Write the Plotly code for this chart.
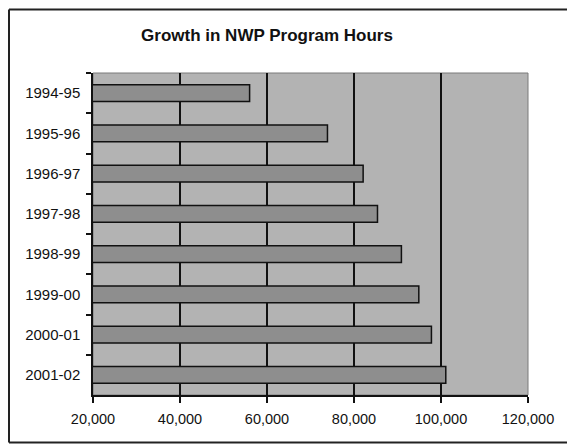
import plotly.graph_objects as go

years = ["1994-95", "1995-96", "1996-97", "1997-98", "1998-99", "1999-00", "2000-01", "2001-02"]
hours = [56000, 73900, 82100, 85400, 90900, 94900, 97800, 101100]
x_ticks = [20000, 40000, 60000, 80000, 100000, 120000]
x_labels = ["20,000", "40,000", "60,000", "80,000", "100,000", "120,000"]

W, H = 567, 445
L, R, T, B = 93, 39, 73, 50
pw, ph = W - L - R, H - T - B

def px_x(p):
    return (p - L) / pw

def px_y(p):
    return (H - B - p) / ph

fig = go.Figure()
fig.add_trace(go.Bar(
    x=hours, y=years, orientation="h",
    marker=dict(color="#8e8e8e", line=dict(color="#111111", width=1.5)),
    width=0.42,
))

font = "Liberation Sans, Arial, sans-serif"
border = dict(color="#222222", width=2)
xl, xr, yt, yb = px_x(9), px_x(580), px_y(9.5), px_y(442.5)
fig.update_layout(
    width=W, height=H,
    margin=dict(l=L, r=R, t=T, b=B),
    paper_bgcolor="white",
    plot_bgcolor="#b3b3b3",
    showlegend=False,
    title=dict(text="<b>Growth in NWP Program Hours</b>", x=267 / W, xref="container", xanchor="center",
               y=1 - 35 / H, yref="container", yanchor="middle",
               font=dict(family=font, size=17, color="#111111")),
    xaxis=dict(range=[20000, 120000], tickvals=x_ticks, ticktext=x_labels,
               showgrid=True, gridcolor="#111111", gridwidth=1.5,
               showline=True, linecolor="#111111", linewidth=1.5,
               ticks="outside", ticklen=6, tickcolor="#111111", tickwidth=1.5,
               ticklabelstandoff=4,
               tickfont=dict(family=font, size=14.5, color="#111111"),
               zeroline=False, fixedrange=True),
    yaxis=dict(autorange="reversed", type="category", tickson="boundaries",
               showgrid=False, showline=True, linecolor="#111111", linewidth=1.5,
               ticks="outside", ticklen=5, tickcolor="#111111", tickwidth=1.5,
               ticklabelstandoff=8,
               tickfont=dict(family=font, size=15, color="#111111"),
               fixedrange=True),
    shapes=[
        dict(type="rect", xref="paper", yref="paper", x0=0, x1=1, y0=0, y1=1,
             line=dict(color="#7a7a7a", width=1), fillcolor="rgba(0,0,0,0)", layer="below"),
        dict(type="line", xref="paper", yref="paper", x0=xl, x1=xr, y0=yt, y1=yt, line=border),
        dict(type="line", xref="paper", yref="paper", x0=xl, x1=xr, y0=yb, y1=yb, line=border),
        dict(type="line", xref="paper", yref="paper", x0=xl, x1=xl, y0=yb, y1=yt, line=border),
    ],
)

fig.write_html(
    "out.html",
    config={"displayModeBar": False},
    post_script="document.body.style.margin='0';document.body.style.overflow='hidden';",
)
